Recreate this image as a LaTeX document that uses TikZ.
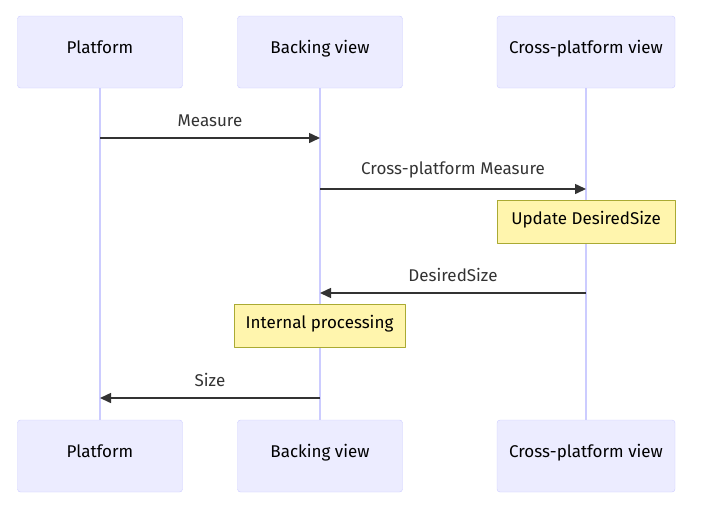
\documentclass[tikz,border=0pt]{standalone}
\usepackage{fontspec}
\setmainfont{Fira Sans}
\usetikzlibrary{arrows.meta,positioning}
\definecolor{actorfill}{HTML}{ECECFF}
\definecolor{actordraw}{HTML}{CCCCFF}
\definecolor{notefill}{HTML}{FFF5AD}
\definecolor{notedraw}{HTML}{AAAA33}
\definecolor{msgline}{HTML}{333333}
\begin{document}
\begin{tikzpicture}[x=1pt,y=-1pt,line join=round,>={Triangle[length=11pt,width=10pt]}]
    \tikzset{actor/.style={draw=actordraw,fill=actorfill,rounded corners=3pt,minimum height=72pt,text depth=10pt,text=black,font=\fontsize{17}{20}\selectfont},
        note/.style={draw=notedraw,fill=notefill,minimum height=43pt,text depth=8pt,text=black,font=\fontsize{17}{20}\selectfont},
        msg/.style={draw=msgline,line width=1.5pt,->},
        msglabel/.style={font=\fontsize{17}{20}\selectfont,text=msgline},
        lifeline/.style={draw=actordraw,line width=1.5pt}}
    \useasboundingbox (0,0) rectangle (706,509);
    % actors
    \node[actor,minimum width=165pt] (pt) at (100,52) {Platform};
    \node[actor,minimum width=165pt] (bt) at (320,52) {Backing view};
    \node[actor,minimum width=178pt] (ct) at (586,52) {Cross-platform view};
    \node[actor,minimum width=165pt] (pb) at (100,456) {Platform};
    \node[actor,minimum width=165pt] (bb) at (320,456) {Backing view};
    \node[actor,minimum width=178pt] (cb) at (586,456) {Cross-platform view};
    % lifelines
    \draw[lifeline] (pt.south)--(pb.north);
    \draw[lifeline] (bt.south)--(bb.north);
    \draw[lifeline] (ct.south)--(cb.north);
    % messages
    \coordinate (m1a) at (100,138); \coordinate (m1b) at (320,138);
    \coordinate (m2a) at (320,189); \coordinate (m2b) at (586,189);
    \coordinate (m3a) at (586,293); \coordinate (m3b) at (320,293);
    \coordinate (m4a) at (320,398); \coordinate (m4b) at (100,398);
    \draw[msg] (m1a)--(m1b) node[msglabel,midway,above=7pt] {Measure};
    \draw[msg] (m2a)--(m2b) node[msglabel,midway,above=7pt] {Cross-platform Measure};
    \node[note,minimum width=178pt] (n1) at (586,221.5) {Update DesiredSize};
    \draw[msg] (m3a)--(m3b) node[msglabel,midway,above=7pt] {DesiredSize};
    \node[note,minimum width=171pt] (n2) at (319.5,325.5) {Internal processing};
    \draw[msg] (m4a)--(m4b) node[msglabel,midway,above=7pt] {Size};
\end{tikzpicture}
\end{document}
